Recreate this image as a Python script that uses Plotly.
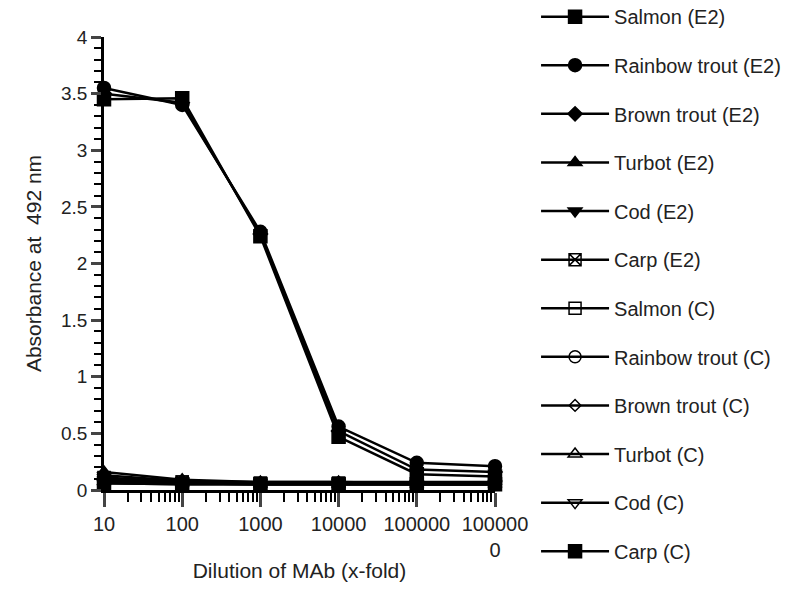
import plotly.graph_objects as go

dilutions = [10, 100, 1000, 10000, 100000, 1000000]
tick_labels = ["10", "100", "1000", "10000", "100000", "100000<br>0"]

series_names = [
    "Salmon (E2)", "Rainbow trout (E2)", "Brown trout (E2)", "Turbot (E2)",
    "Cod (E2)", "Carp (E2)", "Salmon (C)", "Rainbow trout (C)",
    "Brown trout (C)", "Turbot (C)", "Cod (C)", "Carp (C)",
]

salmon_e2 = [3.45, 3.46, 2.24, 0.47, 0.14, 0.12]
rainbow_e2 = [3.55, 3.40, 2.28, 0.56, 0.24, 0.21]
brown_e2 = [3.50, 3.42, 2.26, 0.52, 0.18, 0.16]
turbot_e2 = [0.16, 0.09, 0.07, 0.07, 0.07, 0.07]
cod_e2 = [0.13, 0.08, 0.07, 0.07, 0.06, 0.06]
carp_e2 = [0.11, 0.07, 0.06, 0.06, 0.06, 0.06]
salmon_c = [0.09, 0.07, 0.06, 0.06, 0.06, 0.06]
rainbow_c = [0.08, 0.06, 0.06, 0.06, 0.05, 0.05]
brown_c = [0.07, 0.06, 0.05, 0.05, 0.05, 0.05]
turbot_c = [0.07, 0.06, 0.05, 0.05, 0.05, 0.05]
cod_c = [0.06, 0.05, 0.05, 0.05, 0.05, 0.05]
carp_c = [0.06, 0.05, 0.05, 0.05, 0.05, 0.05]

values = [salmon_e2, rainbow_e2, brown_e2, turbot_e2, cod_e2, carp_e2,
          salmon_c, rainbow_c, brown_c, turbot_c, cod_c, carp_c]

symbols = ["square", "circle", "diamond", "triangle-up", "triangle-down", "square-x-open",
           "square-open", "circle-open", "diamond-open", "triangle-up-open",
           "triangle-down-open", "square-x"]
sizes = [13, 13, 11, 12, 12, 12, 12, 12, 9, 12, 12, 13]

fig = go.Figure()
for i, name in enumerate(series_names):
    fig.add_trace(go.Scatter(
        x=dilutions, y=values[i], name=name, mode="lines+markers",
        line=dict(color="black", width=2.5),
        marker=dict(symbol=symbols[i], size=sizes[i], color="black",
                    line=dict(color="black", width=1.5)),
        legendgroup=name, cliponaxis=False,
    ))

# page body adds an 8px offset, so margins are shifted back by 8px
font = "Liberation Sans, Arial, sans-serif"
fig.update_layout(
    width=800, height=600,
    margin=dict(l=96, r=313, t=29, b=118, autoexpand=False),
    plot_bgcolor="white", paper_bgcolor="white",
    font=dict(family=font, color="#222", size=20),
    showlegend=True,
    legend=dict(x=1.105, y=1.088, xanchor="left", yanchor="top",
                font=dict(size=20, family=font, color="#222"),
                tracegroupgap=19.6, itemwidth=68, bgcolor="rgba(0,0,0,0)",
                maxheight=700),
    xaxis=dict(
        type="log", range=[1, 6], tickmode="array", tickvals=dilutions,
        ticktext=tick_labels, ticks="outside", ticklen=14, tickwidth=2.5,
        showline=True, linecolor="black", linewidth=2.5, showgrid=False,
        zeroline=False, tickfont=dict(size=20),
        minor=dict(ticks="outside", ticklen=9, tickwidth=2, dtick="D1",
                   showgrid=False, tickcolor="black"),
        title=dict(text="Dilution of MAb (x-fold)", font=dict(size=21), standoff=4),
    ),
    yaxis=dict(
        range=[0, 4], tickmode="linear", dtick=0.5, ticks="outside",
        ticklen=10, tickwidth=2.5, showline=True, linecolor="black",
        linewidth=2.5, showgrid=False, zeroline=False, tickfont=dict(size=19),
        minor=dict(ticks="outside", ticklen=7, tickwidth=2, dtick=0.1,
                   showgrid=False, tickcolor="black"),
        title=dict(text="Absorbance at  492 nm", font=dict(size=21), standoff=14),
    ),
)

fig.write_html("out.html")
